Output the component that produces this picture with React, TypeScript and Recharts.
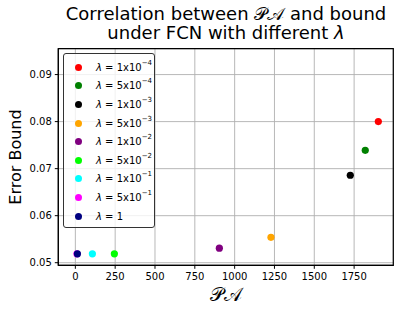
import React from 'react';
import { ScatterChart, Scatter, XAxis, YAxis, CartesianGrid, Legend, Label, ReferenceArea } from 'recharts';

// one point per lambda setting
const lambdaBase = ['1x10', '5x10', '1x10', '5x10', '1x10', '5x10', '1x10', '5x10', '1'];
const lambdaExp = ['−4', '−4', '−3', '−3', '−2', '−2', '−1', '−1', ''];
const colors = ['#ff0000', '#008000', '#000000', '#ffa500', '#800080', '#00ff00', '#00ffff', '#ff00ff', '#000080'];
const paValues = [1902, 1820, 1726, 1228, 904, 245, 107, 10, 13];
const boundValues = [0.0800, 0.0739, 0.0686, 0.0554, 0.0531, 0.0519, 0.0519, 0.0519, 0.0519];

const xTicks = [0, 250, 500, 750, 1000, 1250, 1500, 1750];
const yTicks = [0.05, 0.06, 0.07, 0.08, 0.09];
const xDomain = [-107, 1996];
const yDomain = [0.04945, 0.0955];

const FONT = '"DejaVu Sans", sans-serif';

function LegendBox() {
  return (
    <div
      style={{
        width: 90,
        height: 169,
        border: '1px solid #333',
        borderRadius: 3,
        background: 'rgba(255,255,255,0.8)',
        fontFamily: FONT,
        fontSize: 10,
        color: '#000',
        boxSizing: 'content-box',
        paddingTop: 4,
      }}
    >
      {colors.map((c, i) => (
        <div key={i} style={{ display: 'flex', alignItems: 'center', height: 18.6 }}>
          <span
            style={{
              display: 'inline-block',
              width: 7,
              height: 7,
              borderRadius: '50%',
              background: c,
              marginLeft: 10.5,
              marginRight: 14.5,
            }}
          />
          <span style={{ whiteSpace: 'nowrap' }}>
            <i>λ</i> = {lambdaBase[i]}
            {lambdaExp[i] && (
              <sup style={{ fontSize: 7, verticalAlign: 'top', position: 'relative', top: -3 }}>{lambdaExp[i]}</sup>
            )}
          </span>
        </div>
      ))}
    </div>
  );
}

export default function App() {
  return (
    <div style={{ position: 'absolute', left: 0, top: 0, width: 400, height: 312, background: '#fff' }}>
      <div
        style={{
          position: 'absolute',
          left: 58,
          width: 336,
          top: 4,
          textAlign: 'center',
          fontFamily: FONT,
          fontSize: 18,
          lineHeight: '19px',
          color: '#000',
        }}
      >
        Correlation between 𝒫𝒜 and bound
        <br />
        under FCN with different <i>λ</i>
      </div>
      <ScatterChart width={400} height={312} margin={{ top: 48.7, right: 6.7, bottom: 6.7, left: 8.3 }}>
        <CartesianGrid xAxisId="b" yAxisId="l" stroke="#b0b0b0" strokeWidth={0.9} />
        <XAxis
          xAxisId="b"
          type="number"
          dataKey="x"
          domain={xDomain}
          ticks={xTicks}
          allowDataOverflow
          height={40}
          stroke="#000"
          tickSize={3.5}
          tickMargin={4.4}
          tick={{ fill: '#000', fontSize: 10, fontFamily: FONT }}
        >
          <Label
            content={({ viewBox }: any) => (
              <text
                x={viewBox.x + viewBox.width / 2}
                y={viewBox.y + 36}
                textAnchor="middle"
                fontSize={19}
                fontFamily={FONT}
                fill="#000"
              >
                𝒫𝒜
              </text>
            )}
          />
        </XAxis>
        <YAxis
          yAxisId="l"
          type="number"
          dataKey="y"
          domain={yDomain}
          ticks={yTicks}
          allowDataOverflow
          width={50}
          stroke="#000"
          tickSize={3.5}
          tickMargin={3}
          tick={{ fill: '#000', fontSize: 10, fontFamily: FONT }}
        >
          <Label
            content={({ viewBox }: any) => {
              const cx = 15;
              const cy = viewBox.y + viewBox.height / 2;
              return (
                <text
                  x={cx}
                  y={cy}
                  transform={`rotate(-90 ${cx} ${cy})`}
                  textAnchor="middle"
                  dominantBaseline="central"
                  fontSize={16}
                  fontFamily={FONT}
                  fill="#000"
                >
                  Error Bound
                </text>
              );
            }}
          />
        </YAxis>
        <ReferenceArea
          xAxisId="b"
          yAxisId="l"
          x1={xDomain[0]}
          x2={xDomain[1]}
          y1={yDomain[0]}
          y2={yDomain[1]}
          fill="none"
          fillOpacity={0}
          stroke="#000"
          strokeWidth={1.2}
          ifOverflow="visible"
        />
        <Legend
          layout="vertical"
          align="center"
          verticalAlign="middle"
          content={() => <LegendBox />}
          wrapperStyle={{ left: 63, top: 53, width: 'auto' }}
        />
        {colors.map((c, i) => (
          <Scatter
            key={i}
            xAxisId="b"
            yAxisId="l"
            data={[{ x: paValues[i], y: boundValues[i] }]}
            fill={c}
            isAnimationActive={false}
            shape={(p: any) => <circle cx={p.cx} cy={p.cy} r={3.6} fill={c} />}
          />
        ))}
      </ScatterChart>
    </div>
  );
}
